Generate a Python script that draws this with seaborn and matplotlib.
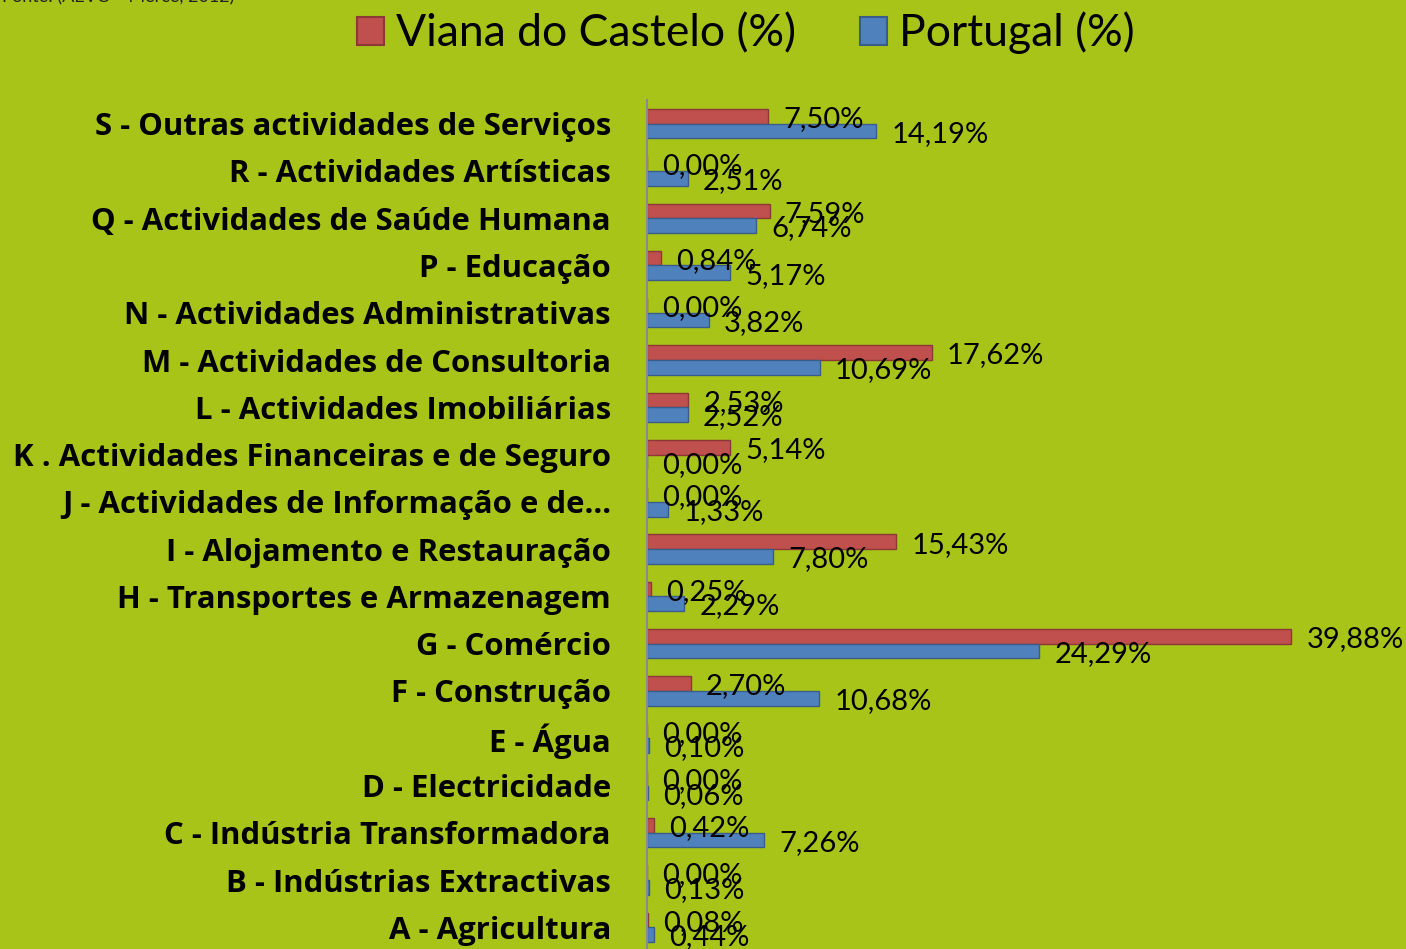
import numpy as np
import pandas as pd
import matplotlib
matplotlib.use("Agg")
import matplotlib.pyplot as plt
import seaborn as sns

categories = [
    "S - Outras actividades de Serviços",
    "R - Actividades Artísticas",
    "Q - Actividades de Saúde Humana",
    "P - Educação",
    "N - Actividades Administrativas",
    "M - Actividades de Consultoria",
    "L - Actividades Imobiliárias",
    "K . Actividades Financeiras e de Seguro",
    "J - Actividades de Informação e de…",
    "I - Alojamento e Restauração",
    "H - Transportes e Armazenagem",
    "G - Comércio",
    "F - Construção",
    "E - Água",
    "D - Electricidade",
    "C - Indústria Transformadora",
    "B - Indústrias Extractivas",
    "A - Agricultura",
]
viana = [7.50, 0.00, 7.59, 0.84, 0.00, 17.62, 2.53, 5.14, 0.00, 15.43,
         0.25, 39.88, 2.70, 0.00, 0.00, 0.42, 0.00, 0.08]
portugal = [14.19, 2.51, 6.74, 5.17, 3.82, 10.69, 2.52, 0.00, 1.33, 7.80,
            2.29, 24.29, 10.68, 0.10, 0.06, 7.26, 0.13, 0.44]
series = ["Viana do Castelo (%)", "Portugal (%)"]

df = pd.DataFrame({
    "cat": categories * 2,
    "serie": [series[0]] * len(categories) + [series[1]] * len(categories),
    "valor": viana + portugal,
})

bg = "#a8c418"
sns.set_style("white")
plt.rcParams["font.family"] = ["Lato", "DejaVu Sans"]
plt.rcParams["text.color"] = "black"

fig = plt.figure(figsize=(14.06, 9.49), dpi=100, facecolor=bg)
ax = fig.add_axes([647 / 1406, -2 / 949, 759 / 1406, 851 / 949])
ax.set_facecolor(bg)

sns.barplot(data=df, y="cat", x="valor", hue="serie", order=categories,
            hue_order=series, palette=["#c0504d", "#4f81bd"], saturation=1,
            width=0.62, orient="h", ax=ax)

edges = ["#8c3836", "#385d8a"]
for cont, vals, ec in zip(ax.containers, [viana, portugal], edges):
    for b in cont:
        b.set_edgecolor(ec)
        b.set_linewidth(1.0)
    labs = [f"{v:.2f}%".replace(".", ",") for v in vals]
    anns = ax.bar_label(cont, labels=labs, padding=11, fontsize=21, color="black")
    for a in anns:
        x0, y0 = a.xyann
        a.xyann = (x0, y0 - 2)

ax.set_xlim(0, 759 / 16.15)
ax.set_ylim(17.5, -0.5)
ax.set_xlabel("")
ax.set_ylabel("")
ax.set_xticks([])
ax.set_yticks(range(len(categories)))
ax.set_yticklabels(categories, family=["Open Sans", "DejaVu Sans"], fontweight="bold",
                   fontsize=22.4, color="black")
ax.tick_params(axis="y", length=0, pad=26)
for s in ["top", "right", "bottom"]:
    ax.spines[s].set_visible(False)
ax.spines["left"].set_color("#8a8a8a")
ax.spines["left"].set_linewidth(1.5)

sns.move_legend(ax, loc="center", bbox_to_anchor=(746 / 1406, 1 - 33 / 949),
                bbox_transform=fig.transFigure, ncol=2, frameon=False, title=None,
                fontsize=32, handlelength=0.6, handleheight=0.6,
                handletextpad=0.27, columnspacing=1.45)
leg = ax.get_legend()
for h, ec in zip(leg.legend_handles, edges):
    h.set_edgecolor(ec)
    h.set_linewidth(1.5)
for t in leg.get_texts():
    t.set_color("black")

fig.text(2 / 1406, 1 - 2 / 949, "Fonte: (AEVC – Mercê, 2012)", fontsize=13,
         va="baseline", ha="left", color="#222222")

fig.savefig("out.png", dpi=100, facecolor=bg)
